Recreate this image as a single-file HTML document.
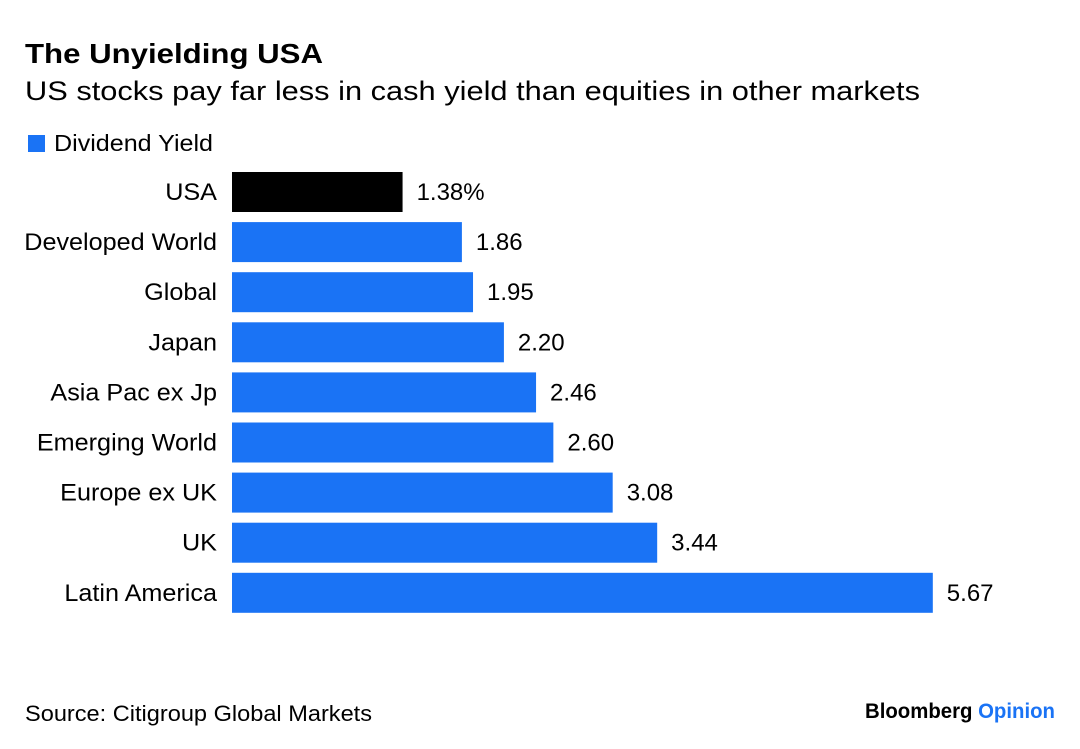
<!DOCTYPE html>
<html><head><meta charset="utf-8"><style>
body{margin:0;background:#fff;font-family:"Liberation Sans",sans-serif;}
#wrap{position:relative;width:1080px;height:749px;overflow:hidden;}
</style></head><body>
<div id="wrap">
<svg id="chart" width="1080" height="749" xmlns="http://www.w3.org/2000/svg">
<text x="25" y="63" font-size="28" font-weight="bold" fill="#000" textLength="298" lengthAdjust="spacingAndGlyphs">The Unyielding USA</text>
<text x="25" y="100" font-size="27" fill="#000" textLength="895" lengthAdjust="spacingAndGlyphs">US stocks pay far less in cash yield than equities in other markets</text>
<rect x="28" y="135" width="17" height="17" fill="#1a73f5"/>
<text x="54" y="151" font-size="23" fill="#000" textLength="159" lengthAdjust="spacingAndGlyphs">Dividend Yield</text>
<g id="bars"></g>
<text x="25" y="721" font-size="22" fill="#000" textLength="347" lengthAdjust="spacingAndGlyphs">Source: Citigroup Global Markets</text>
<text x="865" y="718" font-size="21" font-weight="bold" fill="#000" textLength="190" lengthAdjust="spacingAndGlyphs">Bloomberg <tspan fill="#1a73f5">Opinion</tspan></text>
</svg>
</div>
<script>
const categories=["USA","Developed World","Global","Japan","Asia Pac ex Jp","Emerging World","Europe ex UK","UK","Latin America"];
const values=[1.38,1.86,1.95,2.20,2.46,2.60,3.08,3.44,5.67];
const valueLabels=["1.38%","1.86","1.95","2.20","2.46","2.60","3.08","3.44","5.67"];
const x0=232, pxPerUnit=123.6, y0=172, step=50.1, bh=40;
function xs(v){return x0+v*pxPerUnit;}
function ys(i){return y0+i*step;}
const g=document.getElementById('bars');
const NS="http://www.w3.org/2000/svg";
categories.forEach((c,i)=>{
  const r=document.createElementNS(NS,'rect');
  r.setAttribute('x',x0);r.setAttribute('y',ys(i));
  r.setAttribute('width',xs(values[i])-x0);r.setAttribute('height',bh);
  r.setAttribute('fill',i===0?'#000':'#1a73f5');
  
  
  g.appendChild(r);
  const t=document.createElementNS(NS,'text');
  t.setAttribute('x',217);t.setAttribute('y',ys(i)+bh/2+8);
  t.setAttribute('text-anchor','end');t.setAttribute('font-size','24');
  t.setAttribute('transform','translate(217 0) scale(1.05 1) translate(-217 0)');
  t.textContent=c;
  
  
  g.appendChild(t);
  const v=document.createElementNS(NS,'text');
  v.setAttribute('x',xs(values[i])+14);v.setAttribute('y',ys(i)+bh/2+8);
  v.setAttribute('font-size','24');
  v.textContent=valueLabels[i];
  
  
  g.appendChild(v);
});
</script>
</body></html>
